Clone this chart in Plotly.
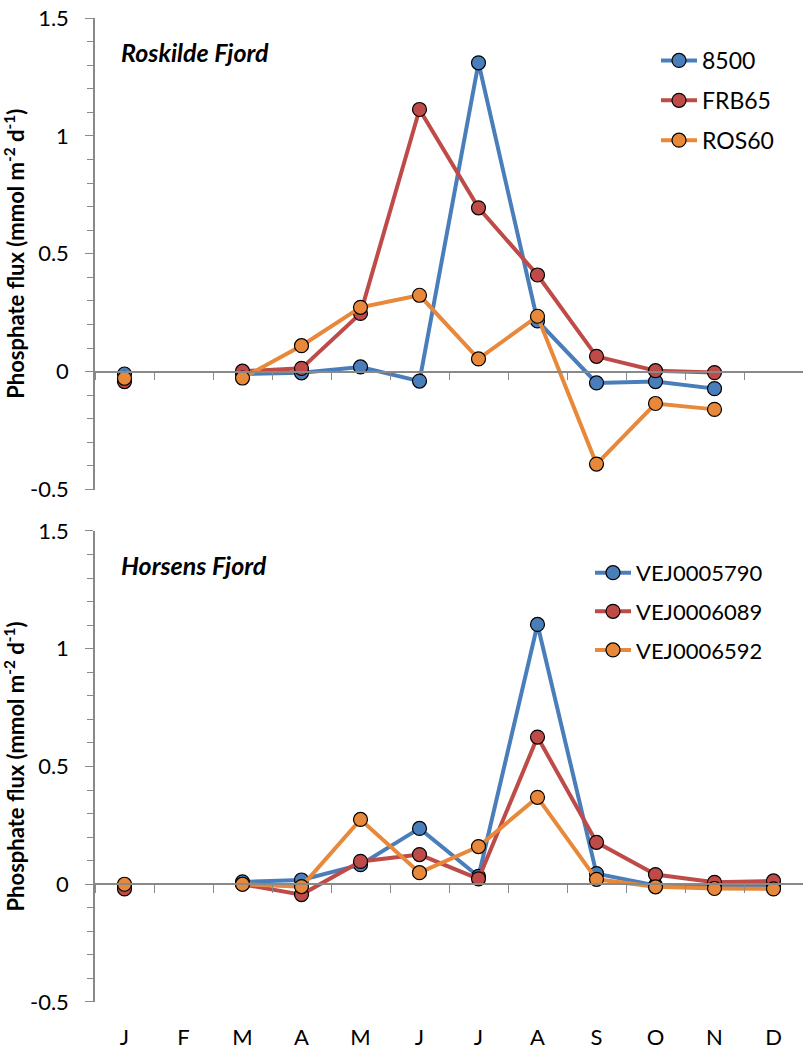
import plotly.graph_objects as go

months = ["Jan", "Feb", "Mar", "Apr", "May", "Jun", "Jul", "Aug", "Sep", "Oct", "Nov", "Dec"]
month_letters = ["J", "F", "M", "A", "M", "J", "J", "A", "S", "O", "N", "D"]

# Roskilde Fjord
ros_names = ["8500", "FRB65", "ROS60"]
ros_8500 = [-0.01, None, -0.01, -0.005, 0.02, -0.04, 1.31, 0.215, -0.048, -0.042, -0.072, None]
ros_frb65 = [-0.042, None, 0.002, 0.014, 0.247, 1.112, 0.695, 0.41, 0.065, 0.004, -0.004, None]
ros_ros60 = [-0.028, None, -0.027, 0.11, 0.273, 0.324, 0.054, 0.235, -0.392, -0.135, -0.16, None]

# Horsens Fjord
hor_names = ["VEJ0005790", "VEJ0006089", "VEJ0006592"]
hor_5790 = [-0.005, None, 0.01, 0.018, 0.083, 0.237, 0.033, 1.103, 0.045, -0.005, -0.01, -0.01]
hor_6089 = [-0.02, None, 0.0, -0.044, 0.097, 0.126, 0.023, 0.625, 0.178, 0.041, 0.008, 0.014]
hor_6592 = [0.0, None, 0.0, -0.01, 0.275, 0.049, 0.16, 0.369, 0.021, -0.011, -0.018, -0.02]

y_tickvals = [-0.5, 0, 0.5, 1, 1.5]
y_ticktext = ["-0.5", "0", "0.5", "1", "1.5"]
y_title = "<b>Phosphate flux (mmol m<sup>-2</sup> d<sup>-1</sup>)</b>"

colors = ["#4A7EBB", "#BE4B48", "#E8883A"]
FONT = "Lato"
AXIS_COLOR = "#898989"

W, H = 803, 1050
mt, mb, ml, mr = 18, 46, 95, 0
ph = H - mt - mb

def py2paper(py):
    return (H - mb - py) / ph

top_dom = [py2paper(490.5), 1.0]
bot_dom = [0.0, py2paper(532)]
YMIN, YMAX = -0.5, 1.5

def zero_pos(dom):
    return dom[0] + (0 - YMIN) / (YMAX - YMIN) * (dom[1] - dom[0])

fig = go.Figure()

for name, vals, c in zip(ros_names, [ros_8500, ros_frb65, ros_ros60], colors):
    fig.add_trace(go.Scatter(
        x=months, y=vals, name=name, mode="lines+markers",
        line=dict(color=c, width=4),
        marker=dict(size=14, color=c, line=dict(color="black", width=1.2)),
        xaxis="x", yaxis="y", legend="legend", legendgroup=name,
        connectgaps=False,
    ))

for name, vals, c in zip(hor_names, [hor_5790, hor_6089, hor_6592], colors):
    fig.add_trace(go.Scatter(
        x=months, y=vals, name=name, mode="lines+markers",
        line=dict(color=c, width=4),
        marker=dict(size=14, color=c, line=dict(color="black", width=1.2)),
        xaxis="x2", yaxis="y2", legend="legend2", legendgroup=name,
        connectgaps=False,
    ))

common_x = dict(
    type="category", categoryorder="array", categoryarray=months,
    range=[-0.5, 11.5], tickson="boundaries",
    showline=True, linecolor=AXIS_COLOR, linewidth=1.5,
    ticks="outside", ticklen=8, tickcolor=AXIS_COLOR, tickwidth=1.2,
    showgrid=False, zeroline=False, anchor="free", domain=[0, 1],
    tickfont=dict(family=FONT, size=22, color="black"),
    tickvals=months, ticktext=month_letters,
)

common_y = dict(
    range=[YMIN, YMAX], tickmode="array", tickvals=y_tickvals, ticktext=y_ticktext,
    showline=True, linecolor=AXIS_COLOR, linewidth=1.5,
    ticks="outside", ticklen=8, tickcolor=AXIS_COLOR, tickwidth=1.2,
    minor=dict(dtick=0.1, tick0=0, ticks="outside", ticklen=6, tickcolor=AXIS_COLOR, tickwidth=1.2, showgrid=False),
    showgrid=False, zeroline=False,
    tickfont=dict(family=FONT, size=22, color="black"),
    ticklabelstandoff=12,
    title=dict(text=y_title, font=dict(family=FONT, size=22, color="black"), standoff=0),
)

fig.update_layout(
    width=W, height=H,
    margin=dict(l=ml, r=mr, t=mt, b=mb),
    paper_bgcolor="white", plot_bgcolor="white",
    xaxis=dict(common_x, position=zero_pos(top_dom), showticklabels=False),
    yaxis=dict(common_y, domain=top_dom, anchor="x"),
    xaxis2=dict(common_x, position=zero_pos(bot_dom), showticklabels=True, ticklabelstandoff=134),
    yaxis2=dict(common_y, domain=bot_dom, anchor="x2"),
    legend=dict(x=(656 - ml) / (W - ml - mr), y=py2paper(39), xanchor="left", yanchor="top",
                font=dict(family=FONT, size=23, color="black"), tracegroupgap=7,
                bgcolor="rgba(0,0,0,0)", traceorder="grouped", itemwidth=36),
    legend2=dict(x=(590 - ml) / (W - ml - mr), y=py2paper(553), xanchor="left", yanchor="top",
                 font=dict(family=FONT, size=22, color="black"), tracegroupgap=7,
                 bgcolor="rgba(0,0,0,0)", traceorder="grouped", itemwidth=36),
    showlegend=True,
    annotations=[
        dict(text="<b><i>Roskilde Fjord</i></b>", xref="paper", yref="paper",
             x=(119 - ml) / (W - ml - mr), y=py2paper(52), xanchor="left", yanchor="middle",
             showarrow=False, font=dict(family=FONT, size=25, color="black")),
        dict(text="<b><i>Horsens Fjord</i></b>", xref="paper", yref="paper",
             x=(119 - ml) / (W - ml - mr), y=py2paper(566), xanchor="left", yanchor="middle",
             showarrow=False, font=dict(family=FONT, size=25, color="black")),
    ],
)

fig.write_html("out.html")
